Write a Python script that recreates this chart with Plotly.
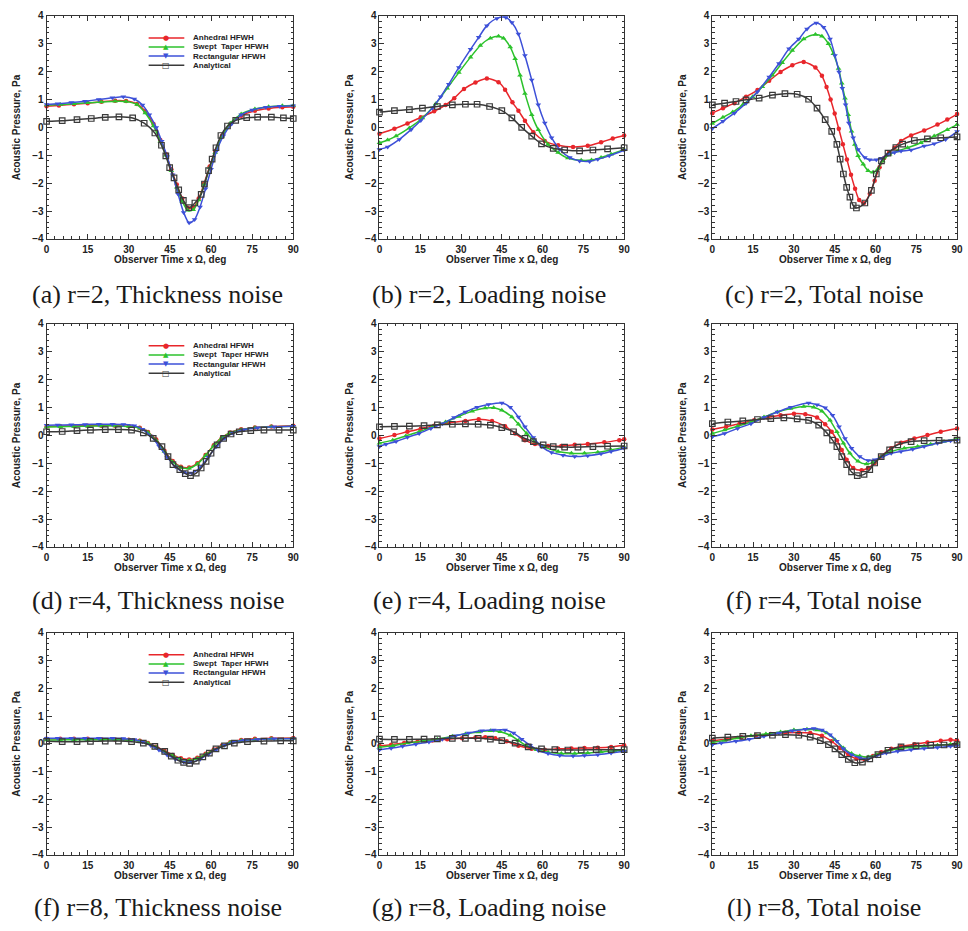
import plotly.graph_objects as go

# ---------------- labels ----------------
SERIES = ["Anhedral HFWH", "Swept\u00a0 Taper HFWH", "Rectangular HFWH", "Analytical"]
X_TICKS = [0, 15, 30, 45, 60, 75, 90]
Y_TICKS = [-4, -3, -2, -1, 0, 1, 2, 3, 4]
CAPTIONS = ["(a) r=2, Thickness noise", "(b) r=2, Loading noise", "(c) r=2, Total noise",
            "(d) r=4, Thickness noise", "(e) r=4, Loading noise", "(f) r=4, Total noise",
            "(f) r=8, Thickness noise", "(g) r=8, Loading noise", "(l) r=8, Total noise"]
X_TITLE = "Observer Time x \u03a9, deg"
Y_TITLE = "Acoustic Pressure, Pa"

# ---------------- (a) r=2 thickness ----------------
A_ANH_X = [0, 4.5, 10, 15, 20, 25, 29, 33, 36, 39, 41.5, 43.5, 45.5, 47.5, 49.5, 51.5, 53.5, 55.5, 57.5, 59.5, 61.5, 64, 67, 71, 76, 81, 86, 90]
A_ANH_Y = [0.76, 0.79, 0.83, 0.87, 0.92, 0.96, 0.95, 0.84, 0.58, 0.12, -0.45, -0.95, -1.5, -2.05, -2.55, -2.88, -2.88, -2.55, -2.0, -1.4, -0.85, -0.3, 0.12, 0.42, 0.6, 0.68, 0.72, 0.74]
A_SWP_X = [0, 5, 10, 15, 20, 25, 29, 33, 36, 39, 41.5, 43.5, 45.5, 47.5, 49.5, 51.5, 53.5, 55.5, 57.5, 59.5, 61.5, 64, 67, 71, 76, 81, 86, 90]
A_SWP_Y = [0.8, 0.82, 0.85, 0.88, 0.91, 0.94, 0.93, 0.82, 0.52, 0.05, -0.5, -1.0, -1.55, -2.15, -2.65, -2.97, -2.95, -2.6, -2.05, -1.45, -0.9, -0.33, 0.15, 0.48, 0.66, 0.74, 0.78, 0.79]
A_REC_X = [0, 4, 9, 14, 19, 24, 28, 32, 35, 37.5, 40, 42, 44, 46, 48, 50, 52, 54, 56, 58, 60, 62, 64.5, 67.5, 71, 75, 80, 85, 90]
A_REC_Y = [0.82, 0.85, 0.89, 0.94, 1.0, 1.06, 1.1, 1.02, 0.8, 0.45, 0.0, -0.5, -1.05, -1.7, -2.4, -3.05, -3.42, -3.3, -2.85, -2.2, -1.5, -0.85, -0.3, 0.12, 0.45, 0.62, 0.72, 0.76, 0.78]
A_ANA_X = [0, 5.7, 11.1, 16.3, 21.4, 26.4, 31.4, 35.6, 39.5, 41.9, 43.5, 44.9, 46.5, 48.2, 49.9, 51.9, 54.1, 56.4, 57.6, 59.1, 60.4, 61.8, 63.6, 66, 69, 73, 77, 82, 86.4, 90]
A_ANA_Y = [0.22, 0.24, 0.28, 0.32, 0.36, 0.38, 0.34, 0.15, -0.2, -0.64, -1.02, -1.44, -1.81, -2.24, -2.62, -2.88, -2.71, -2.4, -2.03, -1.55, -1.14, -0.73, -0.29, 0.05, 0.25, 0.35, 0.37, 0.37, 0.34, 0.32]

# ---------------- (b) r=2 loading ----------------
B_ANH_X = [0, 5.5, 10.3, 15.2, 20.1, 24.3, 27.5, 31.1, 35.3, 39.5, 43.8, 46.2, 48.9, 51.1, 53.5, 56.6, 60.8, 65.7, 71.2, 76.6, 81.5, 85.8, 90]
B_ANH_Y = [-0.23, -0.05, 0.14, 0.36, 0.58, 0.8, 1.05, 1.38, 1.61, 1.75, 1.62, 1.35, 0.9, 0.6, 0.24, -0.17, -0.49, -0.64, -0.7, -0.66, -0.53, -0.4, -0.29]
B_SWP_X = [0, 3, 6.1, 11, 15.8, 20.7, 24.9, 29.2, 33.5, 37.1, 40.8, 43.8, 45.6, 48.1, 49.9, 51.7, 53.5, 56, 58.4, 62, 65.7, 69.3, 74.2, 78, 81.5, 85.2, 90]
B_SWP_Y = [-0.55, -0.45, -0.31, -0.02, 0.34, 0.85, 1.4, 1.97, 2.52, 2.94, 3.2, 3.27, 3.2, 2.88, 2.46, 1.87, 1.22, 0.45, -0.08, -0.61, -0.9, -1.1, -1.18, -1.17, -1.08, -0.96, -0.79]
B_REC_X = [0, 3, 7.3, 11.6, 15.2, 19.5, 22.5, 25.5, 29.2, 33.5, 36.5, 39.5, 43.2, 46.5, 48.7, 51.1, 53.5, 56, 58.4, 60.8, 63.3, 66.3, 70, 73.6, 77.3, 80.3, 84.5, 90]
B_REC_Y = [-0.79, -0.7, -0.43, -0.08, 0.25, 0.7, 1.1, 1.55, 2.15, 2.8, 3.23, 3.65, 3.91, 3.94, 3.76, 3.35, 2.58, 1.7, 0.81, 0.16, -0.37, -0.79, -1.08, -1.2, -1.22, -1.14, -1.02, -0.82]
B_ANA_X = [0, 5.5, 11, 15.8, 21.3, 26.8, 31.6, 35.9, 40.5, 45, 48.7, 52.3, 56, 59.6, 63.9, 68.1, 73.6, 78.5, 83.9, 90]
B_ANA_Y = [0.55, 0.6, 0.64, 0.69, 0.75, 0.81, 0.83, 0.83, 0.75, 0.6, 0.34, 0.0, -0.31, -0.59, -0.75, -0.81, -0.84, -0.81, -0.77, -0.73]

# ---------------- (c) r=2 total ----------------
C_ANH_X = [0, 3.9, 8.1, 12.4, 16.6, 20.9, 25.1, 29.4, 33.6, 37.9, 40.3, 42, 43.5, 45, 46.5, 48, 49.5, 51, 52.5, 54, 55.7, 57.9, 59.7, 61.5, 63.2, 65, 67, 69.4, 73.1, 77.9, 82.8, 86.4, 90]
C_ANH_Y = [0.51, 0.69, 0.87, 1.1, 1.34, 1.67, 1.99, 2.23, 2.35, 2.15, 1.85, 1.45, 1.0, 0.5, -0.05, -0.6, -1.15, -1.7, -2.2, -2.6, -2.72, -2.38, -1.91, -1.43, -1.1, -0.9, -0.73, -0.49, -0.29, -0.11, 0.1, 0.28, 0.48]
C_SWP_X = [0, 3.9, 7.5, 11.2, 14.8, 18.4, 22.1, 25.7, 29.4, 33.6, 37.9, 40.3, 42.7, 44.5, 46.4, 47.6, 48.8, 50, 51.2, 52.4, 53.6, 55.5, 57.3, 59.1, 60.9, 62.7, 65.2, 68, 71.8, 76.7, 81.6, 86.4, 90]
C_SWP_Y = [0.14, 0.36, 0.55, 0.81, 1.1, 1.46, 1.87, 2.32, 2.76, 3.17, 3.33, 3.27, 3.0, 2.64, 2.11, 1.58, 1.05, 0.45, -0.14, -0.61, -1.02, -1.32, -1.55, -1.61, -1.49, -1.2, -0.96, -0.85, -0.73, -0.55, -0.31, -0.08, 0.1]
C_REC_X = [0, 3.9, 8.1, 12.4, 16.6, 20.9, 24.5, 28.2, 31.8, 34.8, 38.2, 40.9, 43.3, 45.1, 46.6, 47.8, 49, 50.2, 51.8, 53.6, 56.1, 57.9, 60.3, 62.1, 64.6, 67, 69.4, 73.1, 77.9, 81.6, 85.8, 90]
C_REC_Y = [-0.04, 0.22, 0.51, 0.87, 1.28, 1.81, 2.29, 2.82, 3.17, 3.53, 3.74, 3.59, 3.17, 2.58, 1.99, 1.4, 0.81, 0.16, -0.37, -0.79, -1.08, -1.16, -1.16, -1.11, -0.96, -0.9, -0.85, -0.81, -0.67, -0.59, -0.43, -0.15]
C_ANA_X = [0, 4.5, 8.7, 12.4, 17.2, 22.1, 26.7, 31.2, 35.4, 38.5, 41.5, 43.9, 45.8, 47, 48.2, 49.4, 50.6, 51.8, 53, 56.1, 58.5, 60.3, 62.2, 64.6, 67.5, 70, 74.3, 79.1, 84, 90]
C_ANA_Y = [0.81, 0.87, 0.93, 0.99, 1.05, 1.16, 1.21, 1.19, 1.01, 0.69, 0.28, -0.14, -0.61, -1.14, -1.67, -2.15, -2.5, -2.8, -2.89, -2.71, -2.26, -1.67, -1.2, -0.92, -0.72, -0.6, -0.47, -0.41, -0.37, -0.34]

# ---------------- (d) r=4 thickness ----------------
D_ANH_X = [0, 5, 10, 15, 20, 25, 30, 34, 37, 40, 43, 46, 49, 52, 55, 58, 61, 64, 67, 71, 76, 82, 90]
D_ANH_Y = [0.32, 0.33, 0.34, 0.35, 0.35, 0.35, 0.33, 0.27, 0.12, -0.15, -0.55, -0.92, -1.12, -1.15, -1.0, -0.7, -0.35, -0.07, 0.1, 0.22, 0.28, 0.32, 0.35]
D_SWP_X = [0, 5, 10, 15, 20, 25, 30, 34, 37, 40, 43, 46, 49, 52, 55, 58, 61, 64, 67, 71, 76, 82, 90]
D_SWP_Y = [0.3, 0.31, 0.32, 0.33, 0.34, 0.34, 0.32, 0.26, 0.1, -0.18, -0.58, -0.95, -1.15, -1.18, -1.03, -0.72, -0.37, -0.08, 0.09, 0.2, 0.27, 0.31, 0.33]
D_REC_X = [0, 4, 9, 14, 19, 24, 28, 32, 35, 38, 41, 44, 47, 50, 53, 56, 59, 62, 65, 68, 72, 77, 83, 90]
D_REC_Y = [0.36, 0.37, 0.38, 0.39, 0.4, 0.4, 0.39, 0.35, 0.22, -0.02, -0.38, -0.78, -1.12, -1.32, -1.35, -1.15, -0.78, -0.4, -0.1, 0.08, 0.2, 0.27, 0.31, 0.33]
D_ANA_X = [0, 5.7, 11.1, 16, 21.4, 26.2, 31, 35.3, 38.9, 42.1, 44.3, 46.1, 48.6, 50.6, 52.5, 54.6, 56.4, 58.2, 60, 62.2, 64.6, 67.3, 70.3, 74.5, 79.3, 84.8, 90]
D_ANA_Y = [0.13, 0.14, 0.17, 0.19, 0.21, 0.21, 0.19, 0.09, -0.11, -0.4, -0.76, -1.05, -1.23, -1.37, -1.44, -1.35, -1.17, -0.93, -0.64, -0.34, -0.11, 0.05, 0.13, 0.17, 0.19, 0.19, 0.19]

# ---------------- (e) r=4 loading ----------------
E_ANH_X = [0, 5.5, 10.3, 15.2, 20.1, 25.5, 31.6, 36.5, 41.4, 46.2, 49.9, 53.5, 57.2, 62, 66.9, 71.8, 76.6, 82.7, 88.2, 90]
E_ANH_Y = [-0.11, 0.01, 0.13, 0.24, 0.35, 0.45, 0.52, 0.58, 0.52, 0.33, 0.07, -0.17, -0.31, -0.38, -0.38, -0.34, -0.31, -0.25, -0.17, -0.14]
E_SWP_X = [0, 4.9, 9.7, 14.6, 19.5, 24.3, 29.2, 34.1, 38.9, 42, 45, 48.7, 51.1, 54.1, 57.2, 60.8, 65.7, 70.6, 75.4, 80.3, 85.2, 90]
E_SWP_Y = [-0.28, -0.17, -0.02, 0.13, 0.31, 0.48, 0.68, 0.87, 0.98, 0.99, 0.9, 0.66, 0.4, 0.07, -0.22, -0.42, -0.58, -0.64, -0.64, -0.6, -0.52, -0.42]
E_REC_X = [0, 2.4, 6.1, 10.3, 14.6, 18.9, 23.1, 27.4, 31.6, 35.9, 40.1, 45, 48.1, 51.1, 53.5, 56.6, 59.6, 63.3, 67.5, 71.8, 76.6, 81.5, 85.2, 90]
E_REC_Y = [-0.4, -0.32, -0.22, -0.07, 0.07, 0.25, 0.42, 0.64, 0.84, 1.01, 1.11, 1.16, 1.01, 0.66, 0.31, -0.08, -0.4, -0.61, -0.71, -0.76, -0.73, -0.66, -0.58, -0.46]
E_ANA_X = [0, 5.5, 11, 16.4, 21.3, 26.8, 31.6, 36.3, 40.8, 45, 49.3, 53.5, 56.6, 60.2, 63.9, 68.1, 73, 78.5, 83.9, 90]
E_ANA_Y = [0.31, 0.32, 0.33, 0.35, 0.38, 0.4, 0.41, 0.4, 0.37, 0.28, 0.13, -0.11, -0.22, -0.34, -0.4, -0.42, -0.42, -0.4, -0.39, -0.38]

# ---------------- (f) r=4 total ----------------
F_ANH_X = [0, 5.1, 10, 15.4, 20.3, 25.1, 30, 34.2, 38.5, 41.5, 43.9, 45.8, 47.6, 49.4, 51.8, 54.9, 57.3, 59.7, 62.1, 65.8, 69.4, 74.3, 79.1, 84, 90]
F_ANH_Y = [0.21, 0.31, 0.42, 0.54, 0.64, 0.72, 0.78, 0.76, 0.64, 0.4, 0.13, -0.17, -0.52, -0.87, -1.17, -1.25, -1.17, -0.99, -0.76, -0.46, -0.26, -0.11, 0.01, 0.13, 0.25]
F_SWP_X = [0, 4.5, 9.3, 14.2, 19, 23.9, 28.8, 33.6, 37.3, 40.3, 43.3, 45.8, 48.2, 50.6, 53.6, 56.7, 59.1, 62.1, 65.8, 70.6, 75.5, 80.3, 85.2, 90]
F_SWP_Y = [0.07, 0.19, 0.33, 0.48, 0.66, 0.84, 0.96, 1.04, 1.01, 0.87, 0.54, 0.13, -0.28, -0.64, -0.93, -1.03, -0.97, -0.76, -0.58, -0.46, -0.4, -0.32, -0.22, -0.12]
F_REC_X = [0, 4.5, 9.3, 14.2, 19, 23.9, 28.8, 35.4, 38.5, 41.5, 44.2, 46.6, 48.8, 51.2, 54.2, 57.3, 59.7, 62.7, 65.8, 69.4, 73.7, 77.9, 82.8, 87.6, 90]
F_REC_Y = [-0.05, 0.07, 0.25, 0.42, 0.64, 0.84, 1.01, 1.16, 1.1, 0.99, 0.72, 0.31, -0.11, -0.46, -0.76, -0.9, -0.87, -0.76, -0.64, -0.58, -0.5, -0.4, -0.28, -0.19, -0.17]
F_ANA_X = [0, 5.7, 11.2, 16.6, 21.5, 26.3, 31.2, 35.4, 39.1, 42.1, 44.2, 45.8, 47.6, 49.4, 51.2, 53.3, 55.8, 57.9, 59.7, 62.1, 65.2, 68.2, 73.1, 77.9, 83.4, 90]
F_ANA_Y = [0.42, 0.48, 0.52, 0.57, 0.6, 0.63, 0.59, 0.54, 0.37, 0.09, -0.17, -0.4, -0.76, -1.05, -1.31, -1.44, -1.4, -1.23, -0.99, -0.76, -0.52, -0.34, -0.22, -0.19, -0.18, -0.17]

# ---------------- (g) r=8 thickness ----------------
G_ANH_X = [0, 5, 10, 15, 20, 25, 30, 34, 37, 40, 43, 46, 49, 52, 55, 58, 61, 64, 67, 71, 76, 82, 90]
G_ANH_Y = [0.18, 0.18, 0.18, 0.18, 0.17, 0.16, 0.15, 0.11, 0.03, -0.1, -0.25, -0.4, -0.52, -0.56, -0.5, -0.36, -0.2, -0.06, 0.06, 0.14, 0.18, 0.2, 0.21]
G_SWP_X = [0, 5, 10, 15, 20, 25, 30, 34, 37, 40, 43, 46, 49, 52, 55, 58, 61, 64, 67, 71, 76, 82, 90]
G_SWP_Y = [0.14, 0.14, 0.15, 0.15, 0.15, 0.15, 0.14, 0.1, 0.02, -0.12, -0.28, -0.43, -0.55, -0.6, -0.53, -0.38, -0.22, -0.08, 0.05, 0.12, 0.16, 0.18, 0.19]
G_REC_X = [0, 4, 9, 14, 19, 24, 28, 32, 35, 38, 41, 44, 47, 50, 53, 56, 59, 62, 65, 68, 72, 77, 83, 90]
G_REC_Y = [0.2, 0.2, 0.2, 0.2, 0.2, 0.2, 0.19, 0.16, 0.08, -0.06, -0.22, -0.4, -0.55, -0.65, -0.66, -0.55, -0.38, -0.2, -0.05, 0.06, 0.13, 0.16, 0.18, 0.18]
G_ANA_X = [0, 5.7, 11.1, 16, 21.4, 26.2, 31, 35.3, 39.5, 43.1, 45.5, 47.9, 50, 52.2, 54.6, 57, 59.4, 61.8, 64.9, 68.5, 73.3, 79.3, 85.4, 90]
G_ANA_Y = [0.09, 0.08, 0.08, 0.09, 0.1, 0.1, 0.08, 0.03, -0.09, -0.27, -0.44, -0.59, -0.67, -0.7, -0.62, -0.47, -0.33, -0.18, -0.07, 0.03, 0.08, 0.1, 0.11, 0.11]

# ---------------- (h) r=8 loading ----------------
H_ANH_X = [0, 4.3, 9.1, 14, 19.5, 24.9, 30.4, 35.3, 38.9, 42.6, 46.8, 51.1, 56, 60.8, 65.7, 70.6, 75.4, 80.3, 85.2, 90]
H_ANH_Y = [-0.07, -0.03, 0.03, 0.08, 0.12, 0.17, 0.2, 0.23, 0.24, 0.2, 0.09, -0.07, -0.18, -0.21, -0.18, -0.17, -0.15, -0.14, -0.11, -0.05]
H_SWP_X = [0, 4.9, 10.3, 15.8, 21.3, 26.8, 31.6, 36.5, 40.8, 44.4, 48.1, 51.1, 54.1, 57.8, 62, 66.9, 71.8, 76.6, 81.5, 86.4, 90]
H_SWP_Y = [-0.12, -0.07, 0.03, 0.1, 0.17, 0.27, 0.36, 0.43, 0.47, 0.44, 0.31, 0.12, -0.07, -0.21, -0.3, -0.35, -0.35, -0.33, -0.29, -0.25, -0.23]
H_REC_X = [0, 4.3, 8.5, 13.4, 18.2, 23.1, 28, 32.8, 37.7, 42, 46.2, 49.3, 52.3, 55.4, 58.4, 62, 66.3, 71.2, 75.4, 80.3, 85.2, 90]
H_REC_Y = [-0.21, -0.16, -0.09, -0.01, 0.07, 0.17, 0.29, 0.39, 0.47, 0.5, 0.5, 0.39, 0.17, -0.05, -0.24, -0.35, -0.42, -0.44, -0.42, -0.39, -0.33, -0.27]
H_ANA_X = [0, 5.5, 11, 16.4, 21.3, 26.8, 31.6, 36.3, 40.8, 45, 49.9, 54.7, 59.6, 64.5, 69.3, 74.2, 79.7, 85.2, 90]
H_ANA_Y = [0.17, 0.16, 0.16, 0.17, 0.18, 0.2, 0.2, 0.2, 0.17, 0.12, 0.03, -0.11, -0.18, -0.21, -0.22, -0.22, -0.21, -0.21, -0.21]

# ---------------- (l) r=8 total ----------------
L_ANH_X = [0, 5.1, 10.6, 16, 21.5, 26.9, 31.8, 36, 40.3, 43.9, 47, 50, 53, 56.1, 59.1, 62.1, 65.8, 69.4, 74.3, 79.1, 84, 87.6, 90]
L_ANH_Y = [0.12, 0.17, 0.24, 0.3, 0.36, 0.4, 0.41, 0.39, 0.29, 0.09, -0.15, -0.39, -0.54, -0.56, -0.44, -0.3, -0.18, -0.09, -0.01, 0.05, 0.11, 0.15, 0.12]
L_SWP_X = [0, 4.5, 9.3, 14.2, 19.7, 25.1, 30, 34.8, 38.5, 42.1, 45.1, 48.2, 51.2, 54.2, 57.3, 60.3, 64, 68.2, 73.1, 77.9, 82.8, 87.6, 90]
L_SWP_Y = [0.05, 0.12, 0.21, 0.29, 0.36, 0.43, 0.5, 0.53, 0.5, 0.39, 0.15, -0.15, -0.35, -0.44, -0.47, -0.39, -0.27, -0.18, -0.12, -0.09, -0.05, -0.01, 0.01]
L_REC_X = [0, 3.3, 8.7, 13.6, 19, 24.5, 29.4, 34.2, 37.3, 40.3, 43.3, 45.8, 48.2, 51.2, 54.2, 57.3, 60.3, 64, 68.2, 73.1, 77.9, 82.8, 87.6, 90]
L_REC_Y = [-0.03, 0.03, 0.09, 0.17, 0.27, 0.39, 0.47, 0.53, 0.55, 0.5, 0.33, 0.09, -0.18, -0.39, -0.5, -0.54, -0.44, -0.33, -0.27, -0.21, -0.17, -0.13, -0.09, -0.07]
L_ANA_X = [0, 5.7, 11.2, 16.6, 22.1, 26.9, 31.8, 36, 39.7, 42.7, 45.1, 47.6, 50, 52.4, 55.2, 57.9, 60.9, 64.6, 69.4, 74.9, 80.3, 85.2, 90]
L_ANA_Y = [0.21, 0.24, 0.27, 0.3, 0.31, 0.33, 0.31, 0.24, 0.12, -0.03, -0.18, -0.39, -0.56, -0.68, -0.66, -0.54, -0.39, -0.23, -0.11, -0.07, -0.05, -0.04, -0.03]

PANELS = [
    [(A_ANH_X, A_ANH_Y), (A_SWP_X, A_SWP_Y), (A_REC_X, A_REC_Y), (A_ANA_X, A_ANA_Y)],
    [(B_ANH_X, B_ANH_Y), (B_SWP_X, B_SWP_Y), (B_REC_X, B_REC_Y), (B_ANA_X, B_ANA_Y)],
    [(C_ANH_X, C_ANH_Y), (C_SWP_X, C_SWP_Y), (C_REC_X, C_REC_Y), (C_ANA_X, C_ANA_Y)],
    [(D_ANH_X, D_ANH_Y), (D_SWP_X, D_SWP_Y), (D_REC_X, D_REC_Y), (D_ANA_X, D_ANA_Y)],
    [(E_ANH_X, E_ANH_Y), (E_SWP_X, E_SWP_Y), (E_REC_X, E_REC_Y), (E_ANA_X, E_ANA_Y)],
    [(F_ANH_X, F_ANH_Y), (F_SWP_X, F_SWP_Y), (F_REC_X, F_REC_Y), (F_ANA_X, F_ANA_Y)],
    [(G_ANH_X, G_ANH_Y), (G_SWP_X, G_SWP_Y), (G_REC_X, G_REC_Y), (G_ANA_X, G_ANA_Y)],
    [(H_ANH_X, H_ANH_Y), (H_SWP_X, H_SWP_Y), (H_REC_X, H_REC_Y), (H_ANA_X, H_ANA_Y)],
    [(L_ANH_X, L_ANH_Y), (L_SWP_X, L_SWP_Y), (L_REC_X, L_REC_Y), (L_ANA_X, L_ANA_Y)],
]

# ---------------- styles ----------------
W, H = 968, 931
COLORS = ["#e8262b", "#2cc22c", "#3d50d8", "#3a3a3a"]
SYMBOLS = ["circle", "triangle-up", "triangle-down", "square-open"]
MSIZES = [4.5, 5, 5, 5.5]
GLYPHS = ["\u25cf", "\u25b2", "\u25bc", "\u25a1"]
COL_L = [44, 380, 716]
COL_R = [293, 627, 963]
ROW_T = [10, 322, 635]
ROW_B = [236, 548, 860]
CAP_X = [156, 491, 829]
CAP_Y = [292, 602, 913]
FRAME = "#333333"

def px(p):
    return p / W

def py(p):
    return 1 - p / H

fig = go.Figure()
layout = dict(width=W, height=H, margin=dict(l=0, r=0, t=0, b=0),
              paper_bgcolor="white", plot_bgcolor="white", showlegend=False)
annotations = []
shapes = []
tickfont = dict(family="Liberation Sans", size=10, color="#222222", weight="bold")

for i, panel in enumerate(PANELS):
    r, c = divmod(i, 3)
    n = i + 1
    xa = "xaxis" if n == 1 else f"xaxis{n}"
    ya = "yaxis" if n == 1 else f"yaxis{n}"
    xr = "x" if n == 1 else f"x{n}"
    yr = "y" if n == 1 else f"y{n}"
    common = dict(showline=True, linecolor=FRAME, linewidth=1, mirror="allticks",
                  ticks="inside", ticklen=5, tickwidth=1, tickcolor=FRAME,
                  showgrid=False, zeroline=False, tickfont=tickfont, tickmode="array")
    layout[xa] = dict(common, domain=[px(COL_L[c]), px(COL_R[c])], range=[0, 90],
                      tickvals=X_TICKS, anchor=yr, ticklabelstandoff=1,
                      minor=dict(ticks="inside", ticklen=2.5, tickwidth=1, tickcolor=FRAME,
                                 tickmode="linear", tick0=0, dtick=3, showgrid=False))
    layout[ya] = dict(common, domain=[py(ROW_B[r]), py(ROW_T[r])], range=[-4, 4],
                      tickvals=Y_TICKS, anchor=xr,
                      minor=dict(ticks="inside", ticklen=2.5, tickwidth=1, tickcolor=FRAME,
                                 tickmode="linear", tick0=0, dtick=0.2, showgrid=False))
    for k, (xs, ys) in enumerate(panel):
        mk = dict(symbol=SYMBOLS[k], size=MSIZES[k], color=COLORS[k])
        if k == 3:
            mk["line"] = dict(width=1.2, color=COLORS[k])
        fig.add_trace(go.Scatter(x=xs, y=ys, mode="lines+markers", name=SERIES[k],
                                 xaxis=xr, yaxis=yr, cliponaxis=False,
                                 line=dict(color=COLORS[k], width=1.5, shape="spline", smoothing=0.8),
                                 marker=mk, showlegend=False))
    # axis titles
    annotations.append(dict(text=X_TITLE, xref="paper", yref="paper",
                            x=px((COL_L[c] + COL_R[c]) / 2), y=py(ROW_B[r] + 20.5),
                            xanchor="center", yanchor="middle", showarrow=False,
                            font=dict(family="Liberation Sans", size=10, color="#222222", weight="bold")))
    annotations.append(dict(text=Y_TITLE, xref="paper", yref="paper", textangle=-90,
                            x=px(COL_L[c] - 30), y=py((ROW_T[r] + ROW_B[r]) / 2),
                            xanchor="center", yanchor="middle", showarrow=False,
                            font=dict(family="Liberation Sans", size=10, color="#222222", weight="bold")))
    # caption
    annotations.append(dict(text=CAPTIONS[i], xref="paper", yref="paper",
                            x=px(CAP_X[c]), y=py(CAP_Y[r]), xanchor="center", yanchor="middle",
                            showarrow=False,
                            font=dict(family="Liberation Serif", size=26, color="#1a1a1a")))
    # manual legend on left column
    if c == 0:
        for k in range(4):
            yy = ROW_T[r] + [22.3, 31.5, 40.7, 50][k]
            shapes.append(dict(type="line", xref="paper", yref="paper",
                               x0=px(COL_L[c] + 103), x1=px(COL_L[c] + 139),
                               y0=py(yy), y1=py(yy), line=dict(color=COLORS[k], width=1.5)))
            annotations.append(dict(text=GLYPHS[k], xref="paper", yref="paper",
                                    x=px(COL_L[c] + 121), y=py(yy), xanchor="center", yanchor="middle",
                                    showarrow=False,
                                    font=dict(family="DejaVu Sans", size=7 if k < 3 else 8, color=COLORS[k])))
            annotations.append(dict(text=SERIES[k], xref="paper", yref="paper",
                                    x=px(COL_L[c] + 146), y=py(yy), xanchor="left", yanchor="middle",
                                    showarrow=False,
                                    font=dict(family="Liberation Sans", size=8, color="#222222", weight="bold")))

layout["annotations"] = annotations
layout["shapes"] = shapes
fig.update_layout(**layout)
fig.write_html("out.html")
